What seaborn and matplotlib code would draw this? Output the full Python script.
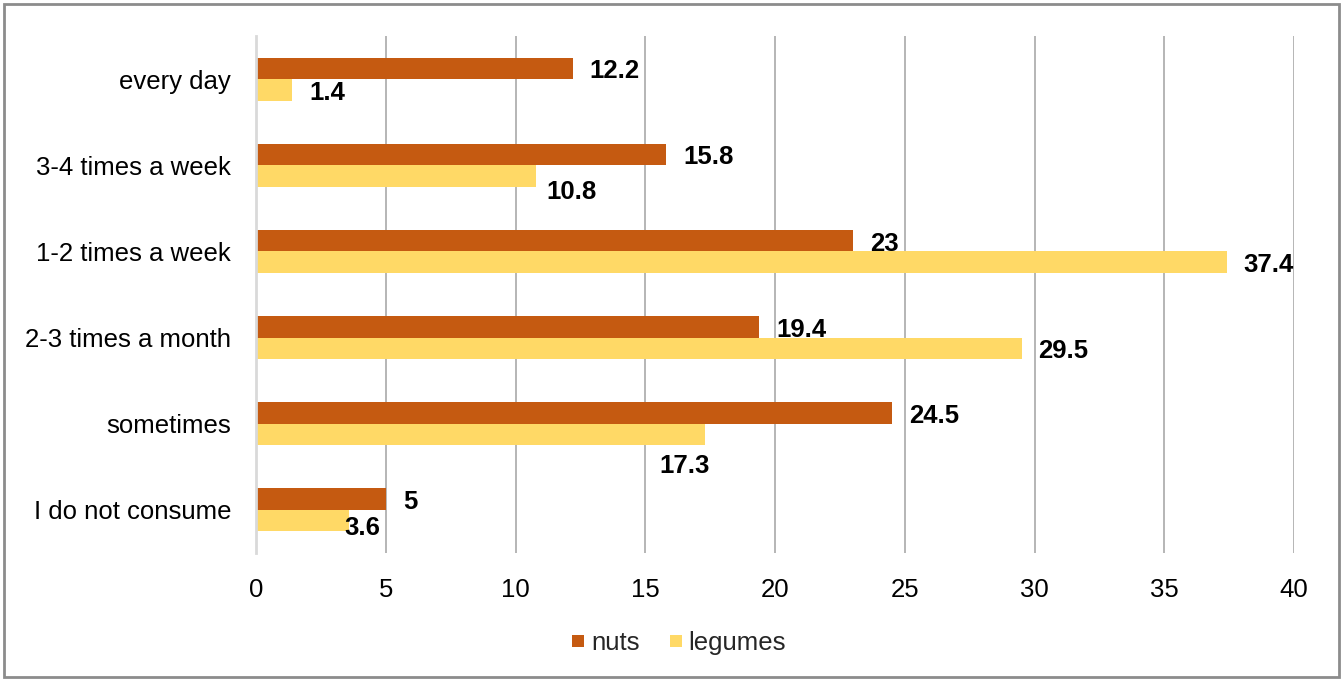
import matplotlib
matplotlib.use("Agg")
import matplotlib.pyplot as plt
from matplotlib.lines import Line2D
from matplotlib.patches import Rectangle
import seaborn as sns
import pandas as pd

# Consumption frequency categories (top to bottom)
frequency = ["every day", "3-4 times a week", "1-2 times a week",
             "2-3 times a month", "sometimes", "I do not consume"]
nuts = [12.2, 15.8, 23, 19.4, 24.5, 5]
legumes = [1.4, 10.8, 37.4, 29.5, 17.3, 3.6]
series_names = ["nuts", "legumes"]
x_ticks = [0, 5, 10, 15, 20, 25, 30, 35, 40]

colors = {"nuts": "#C55A11", "legumes": "#FFD966"}

df = pd.DataFrame({
    "frequency": frequency * 2,
    "percent": nuts + legumes,
    "product": ["nuts"] * len(nuts) + ["legumes"] * len(legumes),
})

sns.set_theme(style="white")
plt.rcParams["font.family"] = ["Liberation Sans", "DejaVu Sans"]

fig = plt.figure(figsize=(13.43, 6.81), dpi=100)
ax = fig.add_axes([256 / 1343, 1 - 553 / 681, (1294 - 256) / 1343, (553 - 36) / 681])

sns.barplot(data=df, x="percent", y="frequency", hue="product",
            hue_order=series_names, order=frequency, orient="h",
            palette=colors, width=0.5, saturation=1, legend=False,
            linewidth=0, ax=ax)

ax.set_xlim(0, 40)
ax.set_ylim(5.5, -0.5)
ax.set_xticks(x_ticks)
ax.set_xticklabels([str(t) for t in x_ticks])
ax.set_xlabel("")
ax.set_ylabel("")
ax.tick_params(axis="both", length=0, labelsize=18.5, colors="black")
ax.tick_params(axis="x", pad=18)
ax.tick_params(axis="y", pad=18)

# vertical gridlines
for t in x_ticks[1:]:
    ax.axvline(t, color="#B0B0B0", lw=1.3, zorder=0)
for side in ["top", "right", "bottom"]:
    ax.spines[side].set_visible(False)
ax.spines["left"].set_color("#D9D9D9")
ax.spines["left"].set_linewidth(2)

# value labels (pixel offsets from the bar end)
label_offsets = {
    "nuts": [(17, -3)] * 6,
    "legumes": [(17, -3), (10, -16), (17, -3), (17, -3), (-20, -31), (-5, -7)],
}
label_ha = {
    "nuts": ["left"] * 6,
    "legumes": ["left", "left", "left", "left", "center", "left"],
}
for cont, name in zip(ax.containers, series_names):
    vals = nuts if name == "nuts" else legumes
    for i, (bar, v) in enumerate(zip(cont, vals)):
        y = bar.get_y() + bar.get_height() / 2
        dx, dy = label_offsets[name][i]
        ax.annotate(f"{v:g}", xy=(v, y), xytext=(dx, dy),
                    textcoords="offset pixels", ha=label_ha[name][i],
                    va="center", fontsize=18.5, fontweight="bold",
                    color="black", annotation_clip=False, zorder=5)

handles = [Line2D([0], [0], marker="s", linestyle="", markersize=9,
                  markerfacecolor=colors[n], markeredgewidth=0)
           for n in series_names]
fig.legend(handles, series_names, loc="center",
           bbox_to_anchor=(677 / 1343, 1 - 643 / 681), ncol=2, frameon=False,
           fontsize=18.5, handletextpad=0.1, columnspacing=1.0,
           handlelength=0.8)

# outer frame
fig.patches.append(Rectangle((4 / 1343, 4 / 681), 1335 / 1343, 673 / 681,
                             transform=fig.transFigure, fill=False,
                             edgecolor="#8C8C8C", linewidth=2))

fig.savefig("out.png", dpi=100, facecolor="white")
